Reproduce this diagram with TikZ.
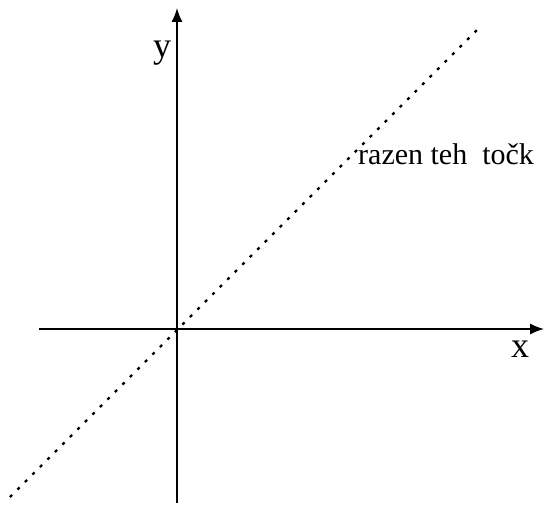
\documentclass[tikz,border=0pt]{standalone}
\usepackage{fontspec}
\setmainfont{Liberation Serif}
\usetikzlibrary{arrows.meta}
\begin{document}
\begin{tikzpicture}[x=1pt,y=-1pt,
  axis/.style={line width=1.5pt,-{Latex[length=14pt,width=11pt]}},
  guide/.style={line width=2.4pt,dash pattern=on 3pt off 7.6pt},
  biglabel/.style={anchor=base,inner sep=0pt,font=\fontsize{36}{40}\selectfont},
  txtlabel/.style={anchor=base west,inner sep=0pt,font=\fontsize{30}{34}\selectfont}]
\useasboundingbox (0,0) rectangle (544,505);
\coordinate (xl) at (39,329);
\coordinate (xr) at (544,329);
\coordinate (yb) at (177,503);
\coordinate (yt) at (177,8);
\coordinate (dl) at (10,497);
\coordinate (dr) at (479,28);
\draw[guide] (dl) -- (dr);
\draw[axis] (xl) -- (xr);
\draw[axis] (yb) -- (yt);
\node[biglabel] (ylab) at (162,58) {y};
\node[biglabel] (xlab) at (520,357) {x};
\node[txtlabel] (note) at (358,165) {razen teh\ \ točk};
\end{tikzpicture}
\end{document}
